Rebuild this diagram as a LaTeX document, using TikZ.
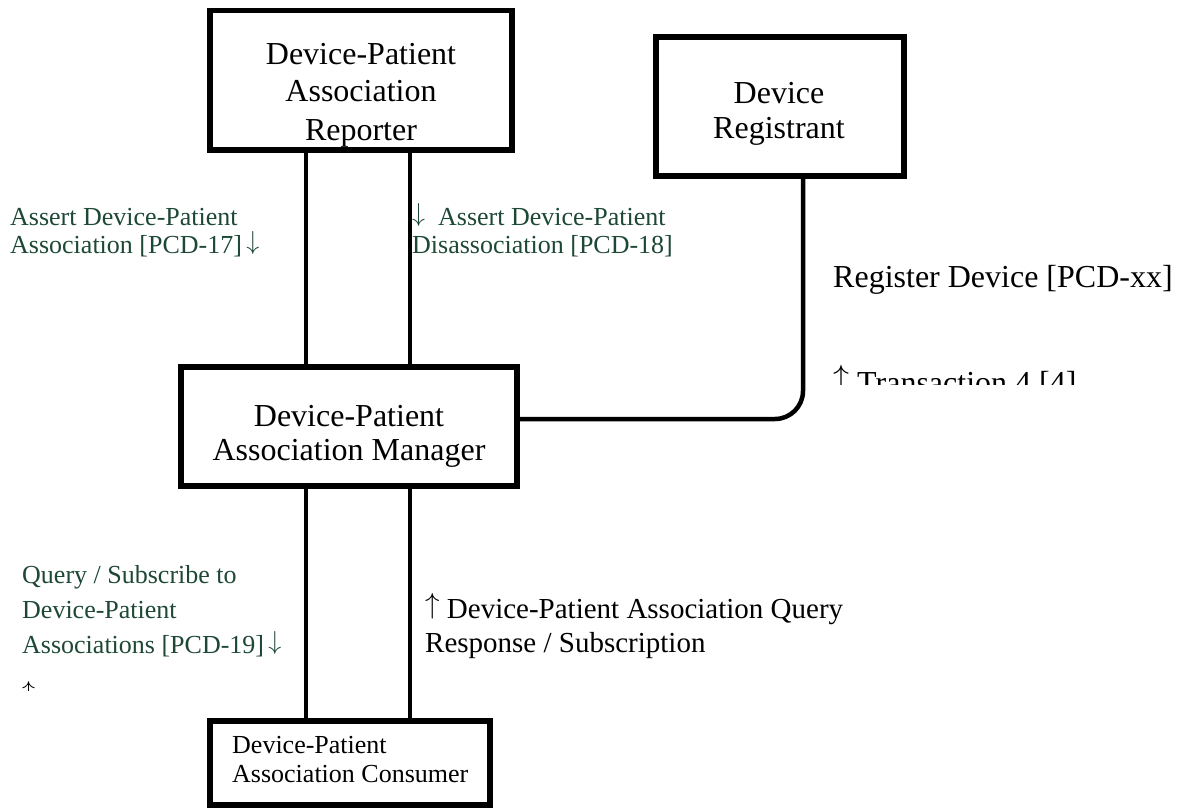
\RequirePackage{fix-cm}
\documentclass[tikz,border=0pt]{standalone}
\usepackage{fontspec}
\setmainfont{Liberation Serif}
\definecolor{lblgreen}{RGB}{30,72,54}
\newcommand\uarr{\raisebox{0.17em}{$\uparrow$}}
\newcommand\darr{\raisebox{0.15em}{$\downarrow$}}
\tikzset{
  box/.style={draw, line width=5.5pt, rectangle, inner sep=0pt},
  conn/.style={line width=4.5pt},
  bigc/.style={inner sep=0pt, anchor=base, font=\fontsize{32}{36}\selectfont},
  bigl/.style={inner sep=0pt, anchor=base west, font=\fontsize{32}{36}\selectfont},
  midl/.style={inner sep=0pt, anchor=base west, font=\fontsize{29}{33}\selectfont},
  smalll/.style={inner sep=0pt, anchor=base west, font=\fontsize{26}{29}\selectfont},
  greenl/.style={smalll, text=lblgreen}
}
\begin{document}
\begin{tikzpicture}[x=1pt,y=-1pt]
\useasboundingbox (0,0) rectangle (1181,808);

% box texts
\node[bigc] (rt1) at (361,65) {Device-Patient};
\node[bigc] (rt2) at (361,102) {Association};
\node[bigc] (rt3) at (361,140) {Reporter};
\node[bigc] (gt1) at (779,103) {Device};
\node[bigc] (gt2) at (779,138) {Registrant};
\node[bigc] (mt1) at (349,426) {Device-Patient};
\node[bigc] (mt2) at (349,460) {Association Manager};
\node[smalll] (ct1) at (232,753) {Device-Patient};
\node[smalll] (ct2) at (232,782) {Association Consumer};

% boxes
\node[box, minimum width=302pt, minimum height=139.5pt] (rep) at (361,80.25) {};
\node[box, minimum width=248pt, minimum height=139pt] (reg) at (780,106.5) {};
\node[box, minimum width=336pt, minimum height=119pt] (man) at (349,426.5) {};
\node[box, minimum width=280pt, minimum height=84pt] (con) at (350,763) {};

% connector columns
\coordinate (colA) at (306,0);
\coordinate (colB) at (410,0);
\coordinate (colR) at (803,0);
\coordinate (rowR) at (0,419);

\draw[conn] (rep.south -| colA) -- (man.north -| colA);
\draw[conn] (rep.south -| colB) -- (man.north -| colB);
\draw[conn] (man.south -| colA) -- (con.north -| colA);
\draw[conn] (man.south -| colB) -- (con.north -| colB);
\draw[conn, rounded corners=28pt] (reg.south -| colR) -- (colR |- rowR) -- (man.east |- rowR);

% labels
\node[greenl] (l1a) at (10,225) {Assert Device-Patient};
\node[greenl] (l1b) at (10,253) {Association [PCD-17]\,\darr};
\node[greenl] (l2a) at (412,225) {\darr\ \ Assert Device-Patient};
\node[greenl] (l2b) at (412,253) {Disassociation [PCD-18]};
\node[bigl] (l3) at (833,287) {Register Device [PCD-xx]};
\begin{scope}
  \clip (820,340) rectangle (1181,384);
  \node[bigl] (l4) at (833,393) {\uarr\ Transaction 4 [4]};
\end{scope}
\node[greenl] (l5a) at (22,583) {Query / Subscribe to};
\node[greenl] (l5b) at (22,618) {Device-Patient};
\node[greenl] (l5c) at (22,653) {Associations [PCD-19]\,\darr};
\begin{scope}
  \clip (15,670) rectangle (45,690);
  \node[smalll] (l6) at (22,704) {\uarr};
\end{scope}
\node[midl] (l7a) at (425,618) {\uarr\ Device-Patient Association Query};
\node[midl] (l7b) at (425,652) {Response / Subscription};
\end{tikzpicture}
\end{document}
